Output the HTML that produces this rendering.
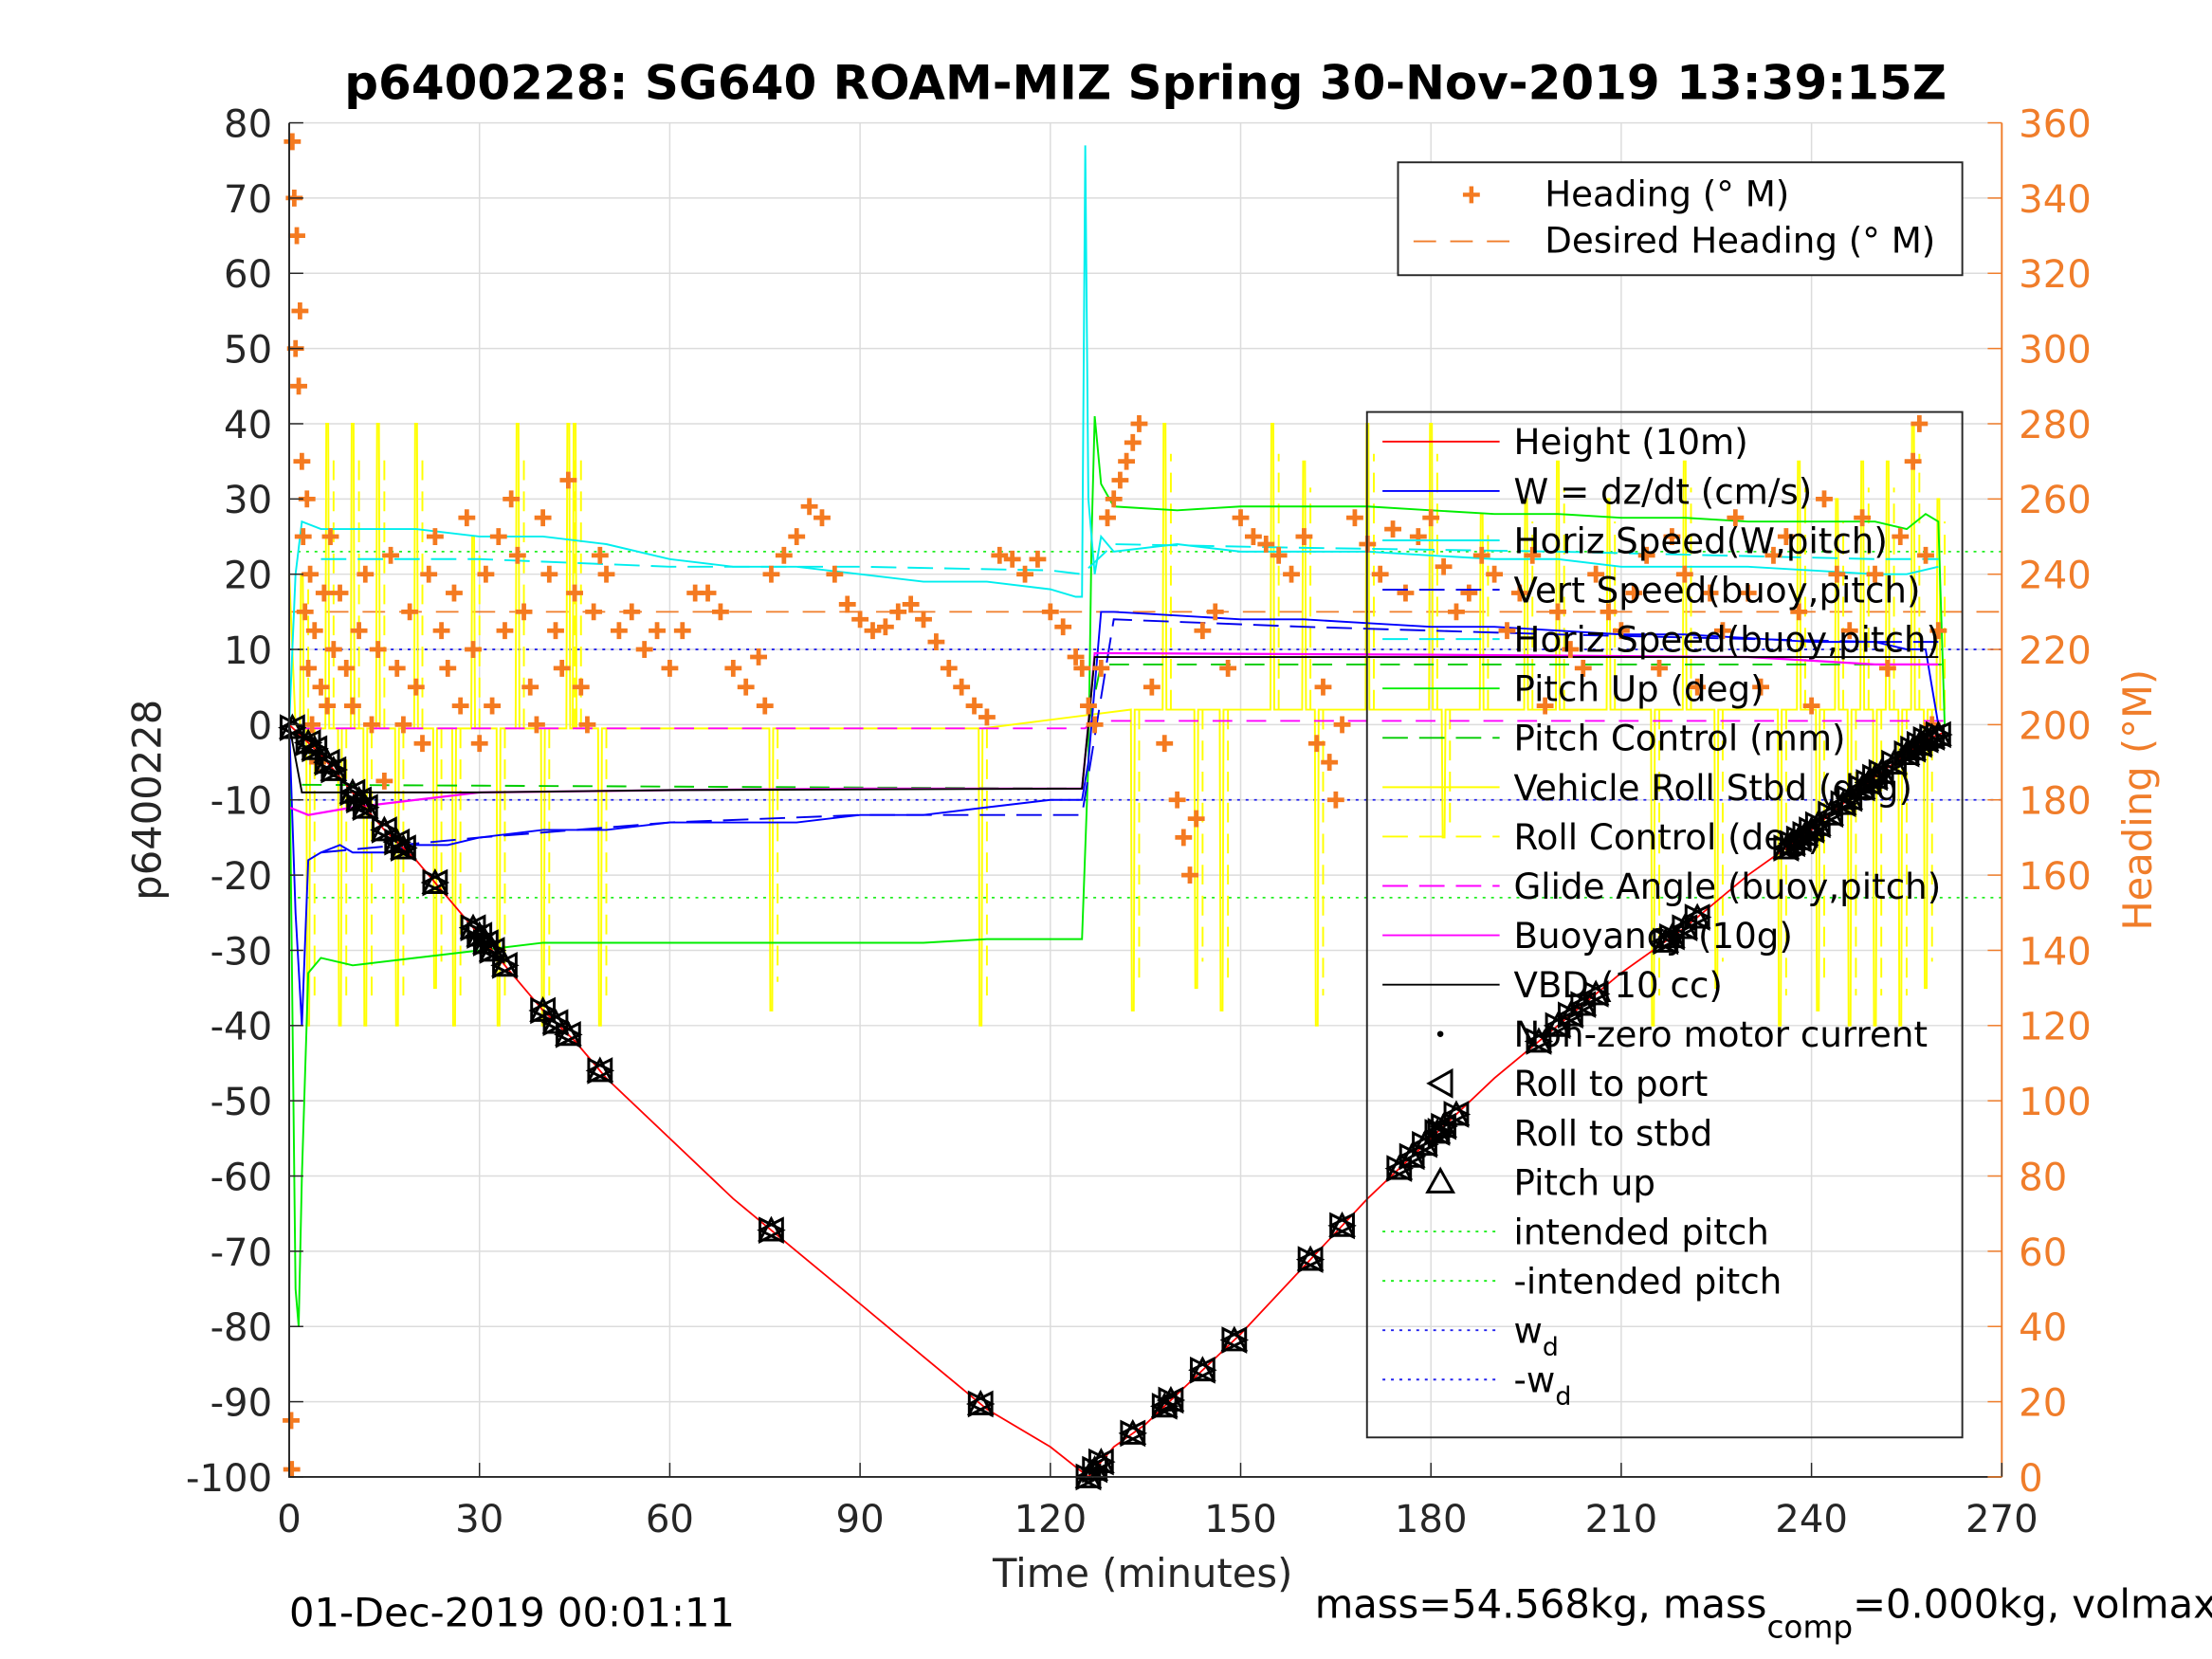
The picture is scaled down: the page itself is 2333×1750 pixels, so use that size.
<!DOCTYPE html>
<html><head><meta charset="utf-8"><style>
html,body{margin:0;padding:0;background:#fff;}
svg{display:block;font-family:"DejaVu Sans","Liberation Sans",sans-serif;}
</style></head><body>
<svg id="chart" width="2333" height="1750" viewBox="0 0 1568 1176" xmlns="http://www.w3.org/2000/svg">
<rect width="1568" height="1176" fill="#fff"/>
<g id="grid"></g>
<g id="series"></g>
<g id="axes"></g>
<g id="legend"></g>
</svg>
<script>
const xTicks=[0,30,60,90,120,150,180,210,240,270];
const yTicks=[80,70,60,50,40,30,20,10,0,-10,-20,-30,-40,-50,-60,-70,-80,-90,-100];
const hTicks=[360,340,320,300,280,260,240,220,200,180,160,140,120,100,80,60,40,20,0];
const heightT=[0,5,10,15,20,25,30,35,40,45,50,60,70,80,90,100,110,120,126,130,135,140,145,150,160,170,180,190,200,210,220,230,240,250,258,261];
const heightV=[0,-4,-9,-14,-18,-23,-28,-33,-38,-42,-47,-55,-63,-70,-77,-84,-91,-96,-100,-96,-93,-89,-85,-81,-72,-63,-55,-47,-40,-33,-27,-20,-14,-7,-2,-1];
const markerT=[0.5,3,4,6,7,10,11,12,15,17,18,23,29,30,31,32,34,40,42,44,49,76,109,126,127,128,133,138,139,144,149,161,166,175,177,179,181,182,184,197,200,202,204,206,217,218,220,222,236,237,238,239,240,241,243,245,246,248,249,250,251,253,255,256,257,258,259,260];
const wT=[0,1,2,3,5,8,10,15,20,25,30,40,50,60,70,80,90,100,110,120,125,126,127,128,130,140,150,160,170,180,190,200,210,220,230,240,250,255,258,260];
const wV=[0,-25,-40,-18,-17,-16,-17,-17,-16,-16,-15,-14,-14,-13,-13,-13,-12,-12,-11,-10,-10,-5,5,15,15,14.5,14,14,13.5,13,13,12.5,12,12,11.5,11,11,10,10,0];
const hsT=[0,1,2,5,10,15,20,30,40,50,60,70,80,90,100,110,120,124,125,125.5,126,127,128,130,140,150,160,170,180,190,200,210,220,230,240,250,255,260];
const hsV=[0,20,27,26,26,26,26,25,25,24,22,21,21,20,19,19,18,17,17,77,30,20,25,23,24,23,23,23,22.5,22,22,21,21,21,20.5,20,20,21];
const hs2T=[5,30,60,90,120,125,130,160,200,250,260];
const hs2V=[22,22,21,21,20.5,20,24,23.5,23,22,22];
const vsT=[5,30,60,90,120,125,130,160,200,250,260];
const vsV=[-17,-15,-13,-12,-12,-12,14,13,12,11,11];
const pT=[0,1,1.5,2,3,5,10,20,30,40,50,60,70,80,90,100,110,120,125,126,126.5,127,128,130,140,150,160,170,180,190,200,210,220,230,240,250,255,258,260,261];
const pV=[0,-75,-80,-60,-33,-31,-32,-31,-30,-29,-29,-29,-29,-29,-29,-29,-28.5,-28.5,-28.5,-5,25,41,32,29,28.5,29,29,29,28.5,28,28,27.5,27.5,27,27,27,26,28,27,0];
const pcT=[2,125,126,128,261];
const pcV=[-8,-8.5,0,8,8];
const spikeT=[2,3,6,8,10,12,14,17,20,23,26,29,33,36,40,44,45,49,76,109,133,138,143,147,155,160,162,170,180,182,188,195,200,208,215,220,225,235,238,241,244,246,248,250,252,254,256,258,260];
const spikeV=[20,-40,40,-40,40,-40,40,-40,40,-35,-40,25,-40,40,-40,40,40,-40,-38,-40,-38,40,-35,-38,40,35,-40,40,40,-15,28,30,35,30,-40,35,-35,-40,35,-38,30,-40,35,-40,35,-40,40,-35,30];
const glideT=[2,125.5,126.5,261];
const glideV=[-0.5,-0.5,0.5,0.5];
const buoyT=[0,3,10,20,30,60,90,120,125,126,127,130,180,230,240,250,260];
const buoyV=[-11,-12,-11,-10,-9,-8.7,-8.5,-8.5,-8.5,0,9.5,9.5,9.3,9,8.5,8,8];
const vbdT=[0,2,5,30,60,125,126,127,130,260];
const vbdV=[0,-9,-9,-9,-8.7,-8.5,0,9,9,9];
const desiredHeading=230;
const intendedPitch=23;
const wd=10;
const headT=[0.3,0.4,0.5,0.8,1,1.2,1.5,1.7,2,2.2,2.5,2.8,3,3.3,3.6,4,4.5,5,5.5,6,6.5,7,8,9,10,11,12,13,14,15,16,17,18,19,20,21,22,23,24,25,26,27,28,29,30,31,32,33,34,35,36,37,38,39,40,41,42,43,44,45,46,47,48,49,50,52,54,56,58,60,62,64,66,68,70,72,74,75,76,78,80,82,84,86,88,90,92,94,96,98,100,102,104,106,108,110,112,114,116,118,120,122,124,125,126,127,128,129,130,131,132,133,134,136,138,140,141,142,143,144,146,148,150,152,154,156,158,160,162,163,164,165,166,168,170,172,174,176,178,180,182,184,186,188,190,192,194,196,198,200,202,204,206,208,210,212,214,216,218,220,222,224,226,228,230,232,234,236,238,240,242,244,246,248,250,252,254,256,257,258,259,260];
const headV=[15,2,355,340,300,330,290,310,270,250,230,260,215,240,200,225,190,210,235,205,250,220,235,215,205,225,240,200,220,185,245,215,200,230,210,195,240,250,225,215,235,205,255,220,195,240,205,250,225,260,245,230,210,200,255,240,225,215,265,235,210,200,230,245,240,225,230,220,225,215,225,235,235,230,215,210,218,205,240,245,250,258,255,240,232,228,225,226,230,232,228,222,215,210,205,202,245,244,240,244,230,226,218,215,205,200,215,255,260,265,270,275,280,210,195,180,170,160,175,225,230,215,255,250,248,245,240,250,195,210,190,180,200,255,248,240,252,235,250,255,242,230,235,245,240,225,235,245,205,230,220,215,240,230,225,235,245,215,250,240,210,235,225,255,235,210,245,250,230,205,260,240,225,255,240,215,250,270,280,245,200,225];

const X0=205,X1=1419,Y0=87,Y1=1047;
const xs=t=>X0+(t/270)*(X1-X0);
const ys=v=>Y1-((v+100)/180)*(Y1-Y0);
const yh=h=>Y1-(h/360)*(Y1-Y0);
const NS='http://www.w3.org/2000/svg';
function mk(tag,parent,attrs){const e=document.createElementNS(NS,tag);for(const k in attrs)e.setAttribute(k,attrs[k]);parent.appendChild(e);return e;}
const G=document.getElementById('grid'),S=document.getElementById('series'),A=document.getElementById('axes'),L=document.getElementById('legend'),svg=document.getElementById('chart');
function interp(T,V,t){for(let i=1;i<T.length;i++){if(t<=T[i]){const f=(t-T[i-1])/(T[i]-T[i-1]);return V[i-1]+f*(V[i]-V[i-1]);}}return V[V.length-1];}
function path(T,V,opts,name){const d=T.map((t,i)=>(i?'L':'M')+xs(t).toFixed(1)+' '+ys(V[i]).toFixed(1)).join(' ');
const p=mk('path',S,Object.assign({d:d,fill:'none'},opts));

return p;}
function hline(v,opts,name,fn){const p=mk('line',S,Object.assign({x1:X0,x2:X1,y1:(fn||ys)(v),y2:(fn||ys)(v)},opts));

}

xTicks.forEach(t=>{const l=mk('line',G,{x1:xs(t),x2:xs(t),y1:Y0,y2:Y1,stroke:'#dcdcdc','stroke-width':1});

});
yTicks.forEach(v=>{const l=mk('line',G,{x1:X0,x2:X1,y1:ys(v),y2:ys(v),stroke:'#dcdcdc','stroke-width':1});

});

hline(intendedPitch,{stroke:'#22ee22','stroke-width':1.2,'stroke-dasharray':'2 4'},'intended-pitch-line');
hline(-intendedPitch,{stroke:'#22ee22','stroke-width':1.2,'stroke-dasharray':'2 4'},'neg-intended-pitch-line');
hline(wd,{stroke:'#2222ee','stroke-width':1.2,'stroke-dasharray':'2 4'},'wd-line');
hline(-wd,{stroke:'#2222ee','stroke-width':1.2,'stroke-dasharray':'2 4'},'neg-wd-line');
hline(desiredHeading,{stroke:'#f07d2a','stroke-width':1.2,'stroke-dasharray':'16 10'},'desired-heading-line',yh);

(function(){const g=mk('g',S,{});


let d='M'+xs(0)+' '+ys(20)+' L'+xs(1)+' '+ys(0);
const base=t=>t<126?-0.5:2;
d+=' L'+xs(1.5)+' '+ys(base(1.5));
spikeT.forEach((t,i)=>{d+=' L'+xs(t-0.3)+' '+ys(base(t))+' L'+xs(t-0.15)+' '+ys(spikeV[i])+' L'+xs(t+0.15)+' '+ys(spikeV[i])+' L'+xs(t+0.3)+' '+ys(base(t));});
d+=' L'+xs(261)+' '+ys(2);
mk('path',g,{d:d,fill:'none',stroke:'#ffff00','stroke-width':1.3});
spikeT.forEach((t,i)=>{const l=mk('line',g,{x1:xs(t+1),x2:xs(t+1),y1:ys(base(t)),y2:ys(spikeV[i]*0.9),stroke:'#ffff00','stroke-width':1.3,'stroke-dasharray':'14 8'});

});
})();
path(glideT,glideV,{stroke:'#ff00ff','stroke-width':1.3,'stroke-dasharray':'14 10'},'glide-angle-series');
path(pcT,pcV,{stroke:'#00cc00','stroke-width':1.3,'stroke-dasharray':'14 10'},'pitch-control-series');
path(pT,pV,{stroke:'#00ee00','stroke-width':1.3},'pitch-up-series');
path(hs2T,hs2V,{stroke:'#00eeee','stroke-width':1.3,'stroke-dasharray':'18 8'},'horiz-speed-buoy-series');
path(hsT,hsV,{stroke:'#00eeee','stroke-width':1.3},'horiz-speed-series');
path(vsT,vsV,{stroke:'#0000ee','stroke-width':1.3,'stroke-dasharray':'18 8'},'vert-speed-buoy-series');
path(wT,wV,{stroke:'#0000ff','stroke-width':1.3},'w-dzdt-series');
path(buoyT,buoyV,{stroke:'#ff00ff','stroke-width':1.5},'buoyancy-series');
path(vbdT,vbdV,{stroke:'#000','stroke-width':1.3},'vbd-series');

(function(){const g=mk('g',S,{stroke:'#f47a20','stroke-width':3.2});


headT.forEach((t,i)=>{const x=xs(t),y=yh(headV[i]);
const p=mk('path',g,{d:`M${x-6} ${y}H${x+6}M${x} ${y-6}V${y+6}`});

});})();

path(heightT,heightV,{stroke:'#ff0000','stroke-width':1.2},'height-series');
(function(){const g=mk('g',S,{fill:'none',stroke:'#000','stroke-width':2});


markerT.forEach(t=>{const x=xs(t),y=ys(interp(heightT,heightV,t));
const p=mk('path',g,{d:`M${x+8} ${y-8}L${x-8} ${y}L${x+8} ${y+8}Z M${x-8} ${y-8}L${x+8} ${y}L${x-8} ${y+8}Z M${x} ${y-8}L${x-8} ${y+7}L${x+8} ${y+7}Z`});

});})();

mk('path',A,{d:`M${X0} ${Y0}V${Y1}H${X1}`,stroke:'#262626','stroke-width':1.3,fill:'none'});
mk('line',A,{x1:X1,x2:X1,y1:Y0,y2:Y1,stroke:'#f07d2a','stroke-width':1.3});
function txt(parent,x,y,s,attrs,name){const t=mk('text',parent,Object.assign({x:x,y:y},attrs));t.textContent=s;

return t;}
xTicks.forEach(t=>{mk('line',A,{x1:xs(t),x2:xs(t),y1:Y1,y2:Y1-10,stroke:'#262626'});txt(A,xs(t),Y1+39,String(t),{'font-size':27,'text-anchor':'middle',fill:'#262626'},'x-tick-label');});
yTicks.forEach(v=>{mk('line',A,{x1:X0,x2:X0+10,y1:ys(v),y2:ys(v),stroke:'#262626'});txt(A,X0-12,ys(v)+10,String(v),{'font-size':27,'text-anchor':'end',fill:'#262626'},'y-tick-label');});
hTicks.forEach(h=>{mk('line',A,{x1:X1,x2:X1-10,y1:yh(h),y2:yh(h),stroke:'#f07d2a'});txt(A,X1+12,yh(h)+10,String(h),{'font-size':27,fill:'#f07d2a'},'heading-tick-label');});
txt(A,812,70,'p6400228: SG640 ROAM-MIZ Spring 30-Nov-2019 13:39:15Z',{'font-size':33.6,'font-weight':'bold','text-anchor':'middle',fill:'#000'},'chart-title');
txt(A,810,1125,'Time (minutes)',{'font-size':28,'text-anchor':'middle',fill:'#262626'},'x-axis-title');
txt(A,0,0,'p6400228',{'font-size':28,'text-anchor':'middle',fill:'#262626',transform:'translate(114,567) rotate(-90)'},'y-axis-title');
txt(A,0,0,'Heading (°M)',{'font-size':28,'text-anchor':'middle',fill:'#f07d2a',transform:'translate(1525,567) rotate(-90)'},'heading-axis-title');
txt(A,205,1153,'01-Dec-2019 00:01:11',{'font-size':28,fill:'#000'},'timestamp-footer');
(function(){const t=txt(A,932,1147,'mass=54.568kg, mass',{'font-size':28,fill:'#000'},'mass-footer');
const s=mk('tspan',t,{dy:14,'font-size':22});s.textContent='comp';
const s2=mk('tspan',t,{dy:-14});s2.textContent='=0.000kg, volmax=';})();

mk('rect',L,{x:991,y:115,width:400,height:80,fill:'#fff',stroke:'#262626','stroke-width':1.3});
(function(){const x=1043,y=138;mk('path',L,{d:`M${x-6} ${y}H${x+6}M${x} ${y-6}V${y+6}`,stroke:'#f47a20','stroke-width':3});})();
txt(L,1095,146,'Heading (° M)',{'font-size':25,fill:'#000'},'legend-heading');
mk('line',L,{x1:1002,x2:1080,y1:171,y2:171,stroke:'#f07d2a','stroke-width':1.2,'stroke-dasharray':'16 10'});
txt(L,1095,179,'Desired Heading (° M)',{'font-size':25,fill:'#000'},'legend-desired-heading');
mk('rect',L,{x:969,y:292,width:422,height:727,fill:'none',stroke:'#262626','stroke-width':1.3});
const legItems=[['Height (10m)','#ff0000',''],['W = dz/dt (cm/s)','#0000ff',''],['Horiz Speed(W,pitch)','#00eeee',''],['Vert Speed(buoy,pitch)','#0000ee','18 8'],['Horiz Speed(buoy,pitch)','#00eeee','18 8'],['Pitch Up (deg)','#00ee00',''],['Pitch Control (mm)','#00cc00','18 8'],['Vehicle Roll Stbd (deg)','#ffff00',''],['Roll Control (deg)','#ffff00','18 8'],['Glide Angle (buoy,pitch)','#ff00ff','18 8'],['Buoyancy (10g)','#ff00ff',''],['VBD (10 cc)','#000',''],['Non-zero motor current','dot',''],['Roll to port','port',''],['Roll to stbd','stbd',''],['Pitch up','pitch',''],['intended pitch','#22ee22','2 4'],['-intended pitch','#22ee22','2 4'],['w','#2222ee','2 4'],['-w','#2222ee','2 4']];
legItems.forEach((it,i)=>{const y=313+i*35;const c=it[1];
if(c==='dot')mk('circle',L,{cx:1021,cy:y,r:2.2,fill:'#000'});
else if(c==='port')mk('path',L,{d:`M1029 ${y-9}L1013 ${y}L1029 ${y+9}Z`,fill:'none',stroke:'#000','stroke-width':2});
else if(c==='stbd')mk('path',L,{d:`M1013 ${y-9}L1029 ${y}L1013 ${y+9}Z`,fill:'none',stroke:'#000','stroke-width':2});
else if(c==='pitch')mk('path',L,{d:`M1021 ${y-9}L1012 ${y+7}L1030 ${y+7}Z`,fill:'none',stroke:'#000','stroke-width':2});
else mk('line',L,{x1:980,x2:1063,y1:y,y2:y,stroke:c,'stroke-width':1.3,'stroke-dasharray':it[2]||'none'});
const t=txt(L,1073,y+9,it[0],{'font-size':25,fill:'#000'},'legend-entry');
if(i>=18){const s=mk('tspan',t,{dy:9,'font-size':18});s.textContent='d';}
});
</script>
</body></html>
